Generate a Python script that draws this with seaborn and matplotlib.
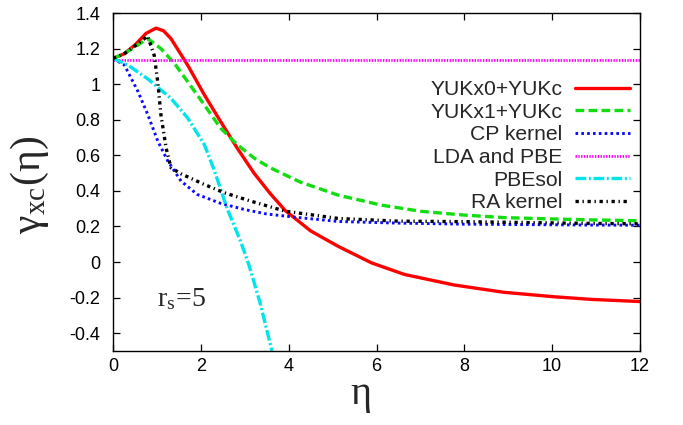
import matplotlib
matplotlib.use("Agg")
import matplotlib.pyplot as plt
import numpy as np
import pandas as pd
import seaborn as sns

# ---- data ----
eta_yuk0 = [0, 0.25, 0.5, 0.75, 0.98, 1.15, 1.32, 1.70, 2.08, 2.45, 2.83, 3.21, 3.58, 3.92,
            4.5, 5.13, 5.89, 6.64, 7.77, 8.9, 10.04, 10.9, 12]
gam_yuk0 = [1.145, 1.17, 1.22, 1.285, 1.315, 1.30, 1.256, 1.107, 0.94, 0.79, 0.64, 0.50, 0.385, 0.29,
            0.175, 0.088, -0.005, -0.07, -0.129, -0.17, -0.195, -0.21, -0.222]

eta_yuk1 = [0, 0.25, 0.5, 0.79, 1.09, 1.40, 1.70, 2.08, 2.45, 2.83, 3.21, 3.58, 4.26, 5.13,
            6.11, 7.02, 8.0, 8.9, 10.04, 10.9, 12]
gam_yuk1 = [1.145, 1.17, 1.21, 1.256, 1.20, 1.116, 1.014, 0.883, 0.753, 0.66, 0.585, 0.53, 0.45, 0.376,
            0.32, 0.285, 0.264, 0.25, 0.242, 0.237, 0.232]

eta_cp = [0, 0.26, 0.57, 0.79, 1.02, 1.25, 1.55, 1.92, 2.45, 3.0, 3.5, 4.23, 5.13, 6.49, 8.0, 10.9, 12]
gam_cp = [1.145, 1.107, 0.958, 0.83, 0.68, 0.567, 0.455, 0.38, 0.33, 0.295, 0.27, 0.25, 0.228, 0.219,
          0.213, 0.208, 0.207]

eta_lda = [0, 12]
gam_lda = [1.135, 1.135]

eta_pbesol = [0, 0.34, 0.79, 1.32, 1.70, 2.08, 2.3, 2.6, 2.9, 3.1, 3.35, 3.62]
gam_pbesol = [1.145, 1.107, 1.03, 0.92, 0.81, 0.66, 0.52, 0.30, 0.12, -0.02, -0.23, -0.5]

eta_ra = [0, 0.25, 0.5, 0.79, 0.94, 1.02, 1.09, 1.21, 1.32, 1.55, 2.08, 2.53, 3.13, 3.92, 5.13,
          6.49, 8.0, 10.9, 12]
gam_ra = [1.145, 1.17, 1.215, 1.27, 1.16, 1.01, 0.83, 0.64, 0.53, 0.496, 0.436, 0.39, 0.343, 0.286,
          0.245, 0.23, 0.227, 0.217, 0.215]

labels = ["YUKx0+YUKc", "YUKx1+YUKc", "CP kernel", "LDA and PBE", "PBEsol", "RA kernel"]
xticks = [0, 2, 4, 6, 8, 10, 12]
yticks = [-0.4, -0.2, 0, 0.2, 0.4, 0.6, 0.8, 1, 1.2, 1.4]
ytick_labels = ["-0.4", "-0.2", "0", "0.2", "0.4", "0.6", "0.8", "1", "1.2", "1.4"]

frames = []
for lab, xs, ys in zip(labels,
                       [eta_yuk0, eta_yuk1, eta_cp, eta_lda, eta_pbesol, eta_ra],
                       [gam_yuk0, gam_yuk1, gam_cp, gam_lda, gam_pbesol, gam_ra]):
    frames.append(pd.DataFrame({"eta": xs, "gamma": ys, "kernel": lab}))
df = pd.concat(frames, ignore_index=True)

styles = {
    "YUKx0+YUKc": dict(color="#ff0000", lw=2.4, ls="-"),
    "YUKx1+YUKc": dict(color="#11dd11", lw=2.4, ls=(0, (2.6, 1.3))),
    "CP kernel": dict(color="#0a0aff", lw=2.1, ls=(0, (0.9, 1.1))),
    "LDA and PBE": dict(color="#ff00ff", lw=2.0, ls=(0, (0.5, 0.5))),
    "PBEsol": dict(color="#00e4ec", lw=2.4, ls=(0, (3.2, 0.8, 0.6, 0.8))),
    "RA kernel": dict(color="#000000", lw=2.4, ls=(0, (1.0, 1.1, 0.4, 1.1))),
}

sns.set_theme(style="ticks")
plt.rcParams["font.family"] = ["Liberation Sans", "DejaVu Sans"]
plt.rcParams["mathtext.fontset"] = "stix"

fig = plt.figure(figsize=(6.83, 4.25), dpi=100)
ax = fig.add_axes([113 / 683, 74 / 425, 527 / 683, 338 / 425])

handles = []
for lab in labels:
    st = styles[lab]
    sub = df[df["kernel"] == lab]
    n_before = len(ax.lines)
    sns.lineplot(data=sub, x="eta", y="gamma", ax=ax, color=st["color"],
                 linewidth=st["lw"], estimator=None, sort=False, legend=False)
    line = ax.lines[n_before]
    line.set_linestyle(st["ls"])
    line.set_label(lab)
    handles.append(line)

ax.set_xlim(0, 12)
ax.set_ylim(-0.5, 1.4)
ax.set_xticks(xticks)
ax.set_xticklabels([str(t) for t in xticks])
ax.set_yticks(yticks)
ax.set_yticklabels(ytick_labels)
ax.tick_params(direction="in", top=True, right=True, length=5, width=0.9,
               labelsize=13, color="black", labelcolor="black")
ax.tick_params(axis="x", pad=5)
ax.tick_params(axis="y", pad=9)
for sp in ax.spines.values():
    sp.set_visible(True)
    sp.set_linewidth(1.0)
    sp.set_color("black")

serif = ["Liberation Serif", "DejaVu Serif"]
ax.set_xlabel("η", fontsize=29, family=serif)
ax.xaxis.set_label_coords(0.47, -0.13)
ax.xaxis.label.set_va("center")
ax.set_ylabel(r"γ$_{\mathregular{xc}}$(η)", fontsize=30, family=serif)
ax.yaxis.set_label_coords(-0.157, 0.49)
ax.yaxis.label.set_va("center")

ax.text(1.0, -0.25, r"r$_{\mathregular{s}}$=5", fontsize=20, ha="left", va="baseline",
        family=serif)

leg = ax.legend(handles=handles, labels=labels, loc="center right",
                bbox_to_anchor=(0.981, 0.606), frameon=False, markerfirst=False,
                prop={"family": ["Liberation Sans", "DejaVu Sans"], "size": 15.2},
                borderpad=0, borderaxespad=0, labelspacing=0.17,
                handlelength=2.6, handletextpad=0.6)

fig.savefig("out.png", dpi=100)
